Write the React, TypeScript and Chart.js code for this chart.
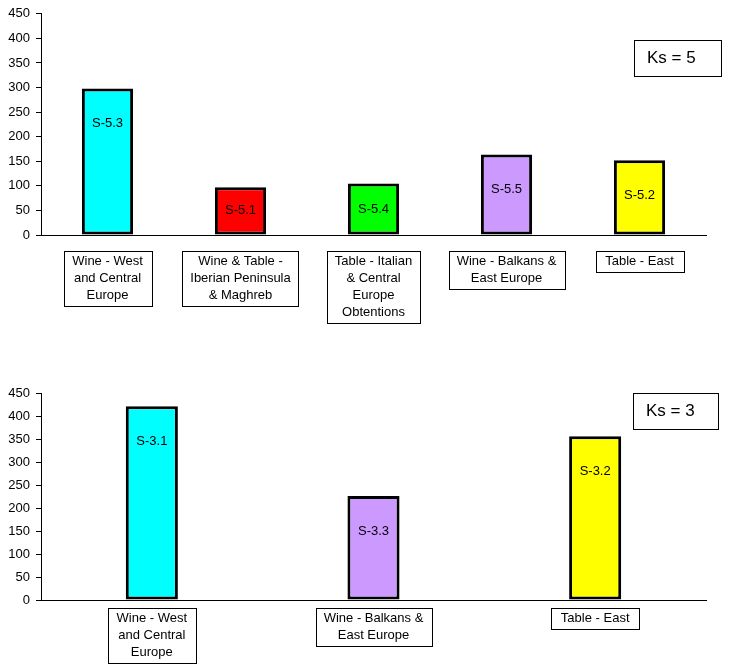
import { useEffect, useRef } from "react"
import { Chart, registerables } from "chart.js"

Chart.register(...registerables)

// Ks = 5 panel
const ks5Categories = [
  ["Wine - West", "and Central", "Europe"],
  ["Wine & Table -", "Iberian Peninsula", "& Maghreb"],
  ["Table - Italian", "& Central", "Europe", "Obtentions"],
  ["Wine - Balkans &", "East Europe"],
  ["Table - East"],
]
const ks5Values = [298, 97, 105, 164, 152]
const ks5Names = ["S-5.3", "S-5.1", "S-5.4", "S-5.5", "S-5.2"]
const ks5Colors = ["#00ffff", "#ff0000", "#00ff00", "#cc99ff", "#ffff00"]

// Ks = 3 panel
const ks3Categories = [
  ["Wine - West", "and Central", "Europe"],
  ["Wine - Balkans &", "East Europe"],
  ["Table - East"],
]
const ks3Values = [421, 226, 356]
const ks3Names = ["S-3.1", "S-3.3", "S-3.2"]
const ks3Colors = ["#00ffff", "#cc99ff", "#ffff00"]

const yTicks = [0, 50, 100, 150, 200, 250, 300, 350, 400, 450]

const FONT = "'Liberation Sans', Arial, sans-serif"

type KsBox = { text: string; left: number; top: number; width: number; height: number }

type PanelProps = {
  categories: string[][]
  values: number[]
  names: string[]
  colors: string[]
  barPercentage: number
  height: number
  padTop: number
  axisHeight: number
  boxGap: number
  ks: KsBox
}

// draws the series names inside the bars, the boxed category labels and the Ks box
const decorations = {
  id: "decorations",
  afterDatasetsDraw(chart: any, _args: any, opts: any) {
    const ctx = chart.ctx as CanvasRenderingContext2D
    const meta = chart.getDatasetMeta(0)
    const xScale = chart.scales.x
    const area = chart.chartArea
    ctx.save()
    ctx.fillStyle = "#000"
    ctx.strokeStyle = "#000"
    ctx.lineWidth = 1
    ctx.font = `13px ${FONT}`
    ctx.textAlign = "center"
    ctx.textBaseline = "middle"

    meta.data.forEach((bar: any, i: number) => {
      const mid = (bar.y + bar.base) / 2
      const ly = Math.min(bar.y + 35, mid)
      ctx.fillText(opts.names[i], bar.x, ly)
    })

    const lineH = 17
    opts.categories.forEach((lines: string[], i: number) => {
      const cx = xScale.getPixelForValue(i)
      const textW = Math.max(...lines.map((l) => ctx.measureText(l).width))
      const w = Math.max(textW + 16, 88)
      const h = lines.length * lineH + 4
      const top = area.bottom + opts.boxGap
      ctx.strokeRect(Math.round(cx - w / 2) + 0.5, Math.round(top) + 0.5, Math.round(w), Math.round(h))
      lines.forEach((l, j) => {
        ctx.fillText(l, cx, top + 2 + lineH / 2 + j * lineH)
      })
    })

    const ks = opts.ks as KsBox
    ctx.strokeRect(ks.left + 0.5, ks.top + 0.5, ks.width, ks.height)
    ctx.font = `17px ${FONT}`
    ctx.textAlign = "left"
    ctx.fillText(ks.text, ks.left + 13, ks.top + ks.height / 2)
    ctx.restore()
  },
}

function BarPanel(props: PanelProps) {
  const chartRef = useRef<HTMLCanvasElement>(null)
  const chartInstance = useRef<Chart | null>(null)

  useEffect(() => {
    if (!chartRef.current) return
    if (chartInstance.current) chartInstance.current.destroy()

    chartInstance.current = new Chart(chartRef.current, {
      type: "bar",
      data: {
        labels: props.categories.map((c) => c.join(" ")),
        datasets: [
          {
            data: props.values,
            backgroundColor: props.colors,
            borderColor: "#000",
            borderWidth: 3,
            borderSkipped: false,
            categoryPercentage: 1,
            barPercentage: props.barPercentage,
          },
        ],
      },
      options: {
        responsive: true,
        maintainAspectRatio: false,
        animation: false,
        layout: { padding: { top: props.padTop, right: 23, left: 0, bottom: 0 } },
        plugins: {
          legend: { display: false },
          tooltip: { enabled: false },
          decorations: {
            categories: props.categories,
            names: props.names,
            boxGap: props.boxGap,
            ks: props.ks,
          },
        } as any,
        scales: {
          x: {
            grid: { display: false },
            border: { display: true, color: "#000", width: 1 },
            ticks: { display: false },
            afterFit: (scale: any) => {
              scale.height = props.axisHeight
            },
          },
          y: {
            min: 0,
            max: 450,
            afterBuildTicks: (scale: any) => {
              scale.ticks = yTicks.map((v) => ({ value: v }))
            },
            grid: { display: true, drawOnChartArea: false, tickLength: 5, color: "#000" },
            border: { display: true, color: "#000", width: 1 },
            ticks: {
              color: "#000",
              padding: 6,
              font: { family: FONT, size: 13 },
            },
            afterFit: (scale: any) => {
              scale.width = 41
            },
          },
        },
      },
      plugins: [decorations],
    })

    return () => {
      if (chartInstance.current) {
        chartInstance.current.destroy()
        chartInstance.current = null
      }
    }
  }, [])

  return (
    <div style={{ position: "relative", width: 729, height: props.height }}>
      <canvas ref={chartRef} />
    </div>
  )
}

export default function App() {
  return (
    <div style={{ position: "absolute", left: 0, top: 0, width: 729, height: 669, background: "#fff" }}>
      <div style={{ position: "absolute", left: 0, top: 0 }}>
        <BarPanel
          categories={ks5Categories}
          values={ks5Values}
          names={ks5Names}
          colors={ks5Colors}
          barPercentage={0.385}
          height={335}
          padTop={13}
          axisHeight={100}
          boxGap={16}
          ks={{ text: "Ks = 5", left: 634, top: 40, width: 87, height: 36 }}
        />
      </div>
      <div style={{ position: "absolute", left: 0, top: 370 }}>
        <BarPanel
          categories={ks3Categories}
          values={ks3Values}
          names={ks3Names}
          colors={ks3Colors}
          barPercentage={0.235}
          height={299}
          padTop={23}
          axisHeight={69}
          boxGap={8}
          ks={{ text: "Ks = 3", left: 633, top: 23, width: 85, height: 36 }}
        />
      </div>
    </div>
  )
}
